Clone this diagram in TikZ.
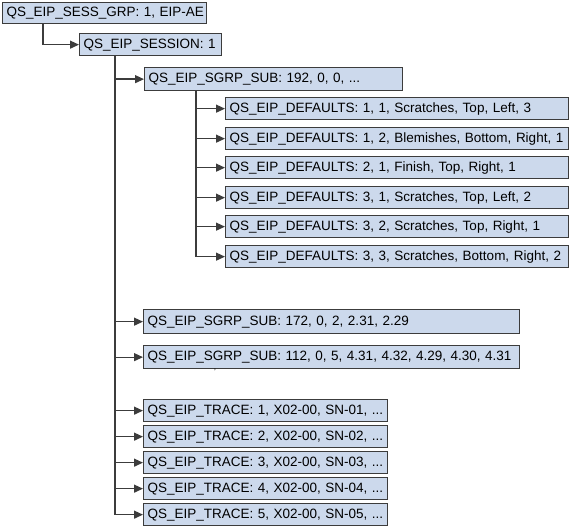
\documentclass[tikz,border=0pt]{standalone}
\usepackage{fontspec}
\setmainfont{Liberation Sans}
\usetikzlibrary{arrows.meta}
\definecolor{boxfill}{RGB}{204,217,236}
\definecolor{boxline}{RGB}{60,60,60}
\tikzset{
         recbox/.style={draw=boxline,fill=boxfill,line width=1.3pt,anchor=north west,
                        inner xsep=4pt,inner ysep=0pt,align=left,
                        font=\fontsize{13.5}{15}\selectfont},
         conn/.style={draw=boxline,line width=1.3pt,-{Triangle[length=9pt,width=8pt]}}
        }
\begin{document}
\begin{tikzpicture}[x=1pt,y=-1pt]
\useasboundingbox (0,0) rectangle (570,529);
\node[recbox,text width=196pt,minimum height=21pt] (grp) at (2,2) {\mbox{QS\_EIP\_SESS\_GRP: 1, EIP-AE}}; % group
\node[recbox,text width=134pt,minimum height=22pt] (sess) at (79,33) {\mbox{QS\_EIP\_SESSION: 1}}; % session
\node[recbox,text width=250pt,minimum height=23pt] (sub1) at (144,67) {\mbox{QS\_EIP\_SGRP\_SUB: 192, 0, 0, ...}}; % subgroup 192
\node[recbox,text width=335pt,minimum height=22pt] (def1) at (225,97) {\mbox{QS\_EIP\_DEFAULTS: 1, 1, Scratches, Top, Left, 3}}; % default 1
\node[recbox,text width=335pt,minimum height=22pt] (def2) at (225,127) {\mbox{QS\_EIP\_DEFAULTS: 1, 2, Blemishes, Bottom, Right, 1}}; % default 2
\node[recbox,text width=335pt,minimum height=22pt] (def3) at (225,156) {\mbox{QS\_EIP\_DEFAULTS: 2, 1, Finish, Top, Right, 1}}; % default 3
\node[recbox,text width=335pt,minimum height=22pt] (def4) at (225,186) {\mbox{QS\_EIP\_DEFAULTS: 3, 1, Scratches, Top, Left, 2}}; % default 4
\node[recbox,text width=335pt,minimum height=22pt] (def5) at (225,215) {\mbox{QS\_EIP\_DEFAULTS: 3, 2, Scratches, Top, Right, 1}}; % default 5
\node[recbox,text width=335pt,minimum height=22pt] (def6) at (225,245) {\mbox{QS\_EIP\_DEFAULTS: 3, 3, Scratches, Bottom, Right, 2}}; % default 6
\node[recbox,text width=368pt,minimum height=24pt] (sub2) at (143,309) {\mbox{QS\_EIP\_SGRP\_SUB: 172, 0, 2, 2.31, 2.29}}; % subgroup 172
\node[recbox,text width=368pt,minimum height=23pt] (sub3) at (143,345) {\mbox{QS\_EIP\_SGRP\_SUB: 112, 0, 5, 4.31, 4.32, 4.29, 4.30, 4.31}}; % subgroup 112
\node[recbox,text width=236pt,minimum height=22pt] (tr1) at (143,399) {\mbox{QS\_EIP\_TRACE: 1, X02-00, SN-01, ...}}; % trace 1
\node[recbox,text width=236pt,minimum height=22pt] (tr2) at (143,425) {\mbox{QS\_EIP\_TRACE: 2, X02-00, SN-02, ...}}; % trace 2
\node[recbox,text width=236pt,minimum height=22pt] (tr3) at (143,451) {\mbox{QS\_EIP\_TRACE: 3, X02-00, SN-03, ...}}; % trace 3
\node[recbox,text width=236pt,minimum height=22pt] (tr4) at (143,477) {\mbox{QS\_EIP\_TRACE: 4, X02-00, SN-04, ...}}; % trace 4
\node[recbox,text width=236pt,minimum height=22pt] (tr5) at (143,503) {\mbox{QS\_EIP\_TRACE: 5, X02-00, SN-05, ...}}; % trace 5
\draw[conn] ([xshift=41pt]grp.south west) |- (sess.west); % group to session
\draw[conn] ([xshift=36pt]sess.south west) |- (sub1.west); % session children
\draw[conn] ([xshift=36pt]sess.south west) |- (sub2.west);
\draw[conn] ([xshift=36pt]sess.south west) |- (sub3.west);
\draw[conn] ([xshift=36pt]sess.south west) |- (tr1.west);
\draw[conn] ([xshift=36pt]sess.south west) |- (tr2.west);
\draw[conn] ([xshift=36pt]sess.south west) |- (tr3.west);
\draw[conn] ([xshift=36pt]sess.south west) |- (tr4.west);
\draw[conn] ([xshift=36pt]sess.south west) |- (tr5.west);
\draw[conn] ([xshift=52pt]sub1.south west) |- (def1.west); % subgroup children
\draw[conn] ([xshift=52pt]sub1.south west) |- (def2.west);
\draw[conn] ([xshift=52pt]sub1.south west) |- (def3.west);
\draw[conn] ([xshift=52pt]sub1.south west) |- (def4.west);
\draw[conn] ([xshift=52pt]sub1.south west) |- (def5.west);
\draw[conn] ([xshift=52pt]sub1.south west) |- (def6.west);
\node[font=\fontsize{8}{8}\selectfont,inner sep=0pt] (tick) at (215,372) {'}; % stray mark
\end{tikzpicture}
\end{document}
